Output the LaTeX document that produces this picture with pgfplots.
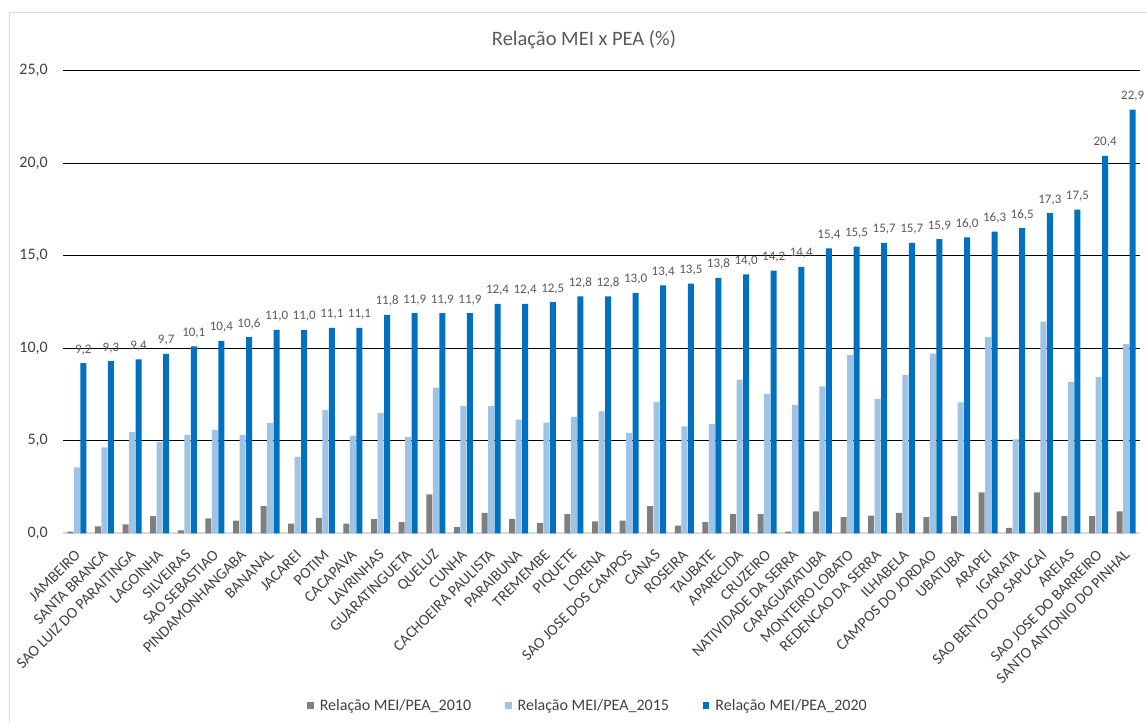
\documentclass[border=0pt]{standalone}
\usepackage{pgfplots}
\pgfplotsset{compat=1.18}
\usepackage{pgfplotstable}
\usepackage{fontspec}
\setmainfont{Carlito}
\definecolor{c10}{HTML}{7F7F7F}
\definecolor{c15}{HTML}{9DC3E6}
\definecolor{c20}{HTML}{0070C0}
\definecolor{txt}{HTML}{595959}
\definecolor{tickc}{HTML}{404040}
\definecolor{bord}{HTML}{D9D9D9}

\pgfplotstableread{
x v10 v15 v20
0 0.09 3.56 9.2
1 0.38 4.65 9.3
2 0.48 5.48 9.4
3 0.93 4.94 9.7
4 0.16 5.32 10.1
5 0.81 5.59 10.4
6 0.68 5.32 10.6
7 1.47 5.96 11.0
8 0.52 4.13 11.0
9 0.84 6.66 11.1
10 0.52 5.28 11.1
11 0.77 6.50 11.8
12 0.61 5.21 11.9
13 2.10 7.87 11.9
14 0.34 6.88 11.9
15 1.11 6.88 12.4
16 0.77 6.14 12.4
17 0.57 5.98 12.5
18 1.04 6.29 12.8
19 0.65 6.59 12.8
20 0.68 5.41 13.0
21 1.47 7.11 13.4
22 0.41 5.78 13.5
23 0.61 5.91 13.8
24 1.04 8.31 14.0
25 1.04 7.54 14.2
26 0.09 6.93 14.4
27 1.19 7.94 15.4
28 0.88 9.63 15.5
29 0.95 7.27 15.7
30 1.11 8.57 15.7
31 0.88 9.71 15.9
32 0.93 7.08 16.0
33 2.21 10.60 16.3
34 0.29 5.08 16.5
35 2.21 11.44 17.3
36 0.93 8.17 17.5
37 0.93 8.44 20.4
38 1.19 10.22 22.9
}\data

\begin{document}
\begin{tikzpicture}[x=1pt,y=1pt]
\useasboundingbox (0,0) rectangle (1147,722);
\draw[bord, line width=1pt] (9.5,-20) -- (9.5,709.5) -- (1170,709.5);
\node[txt, font=\fontsize{20.5}{24}\selectfont] at (584,682) {Relação MEI x PEA (\%)};
\begin{axis}[
  at={(63pt,188.7pt)}, anchor=south west,
  scale only axis, width=1077pt, height=462.5pt,
  xmin=-0.5, xmax=38.5, ymin=0, ymax=25,
  ybar=0.5pt, bar width=6pt,
  axis x line*=bottom, axis y line*=left,
  x axis line style={bord, line width=2pt, -},
  y axis line style={draw=none},
  ytick={5,10,15,20,25}, extra y ticks={0}, extra y tick style={grid=none},
  ymajorgrids, grid style={black, line width=1.2pt},
  major tick length=0pt,
  /pgf/number format/.cd, use comma, fixed, fixed zerofill, precision=1, assume math mode=true,
  /pgfplots/.cd,
  yticklabel style={anchor=east, inner sep=0pt, xshift=-15pt, font=\fontsize{16}{19}\selectfont, text=tickc},
  xtick={0,...,38},
  xticklabels={JAMBEIRO, SANTA BRANCA, SAO LUIZ DO PARAITINGA, LAGOINHA, SILVEIRAS, SAO SEBASTIAO, PINDAMONHANGABA, BANANAL, JACAREI, POTIM, CACAPAVA, LAVRINHAS, GUARATINGUETA, QUELUZ, CUNHA, CACHOEIRA PAULISTA, PARAIBUNA, TREMEMBE, PIQUETE, LORENA, SAO JOSE DOS CAMPOS, CANAS, ROSEIRA, TAUBATE, APARECIDA, CRUZEIRO, NATIVIDADE DA SERRA, CARAGUATATUBA, MONTEIRO LOBATO, REDENCAO DA SERRA, ILHABELA, CAMPOS DO JORDAO, UBATUBA, ARAPEI, IGARATA, SAO BENTO DO SAPUCAI, AREIAS, SAO JOSE DO BARREIRO, SANTO ANTONIO DO PINHAL},
  xticklabel style={xshift=1pt, yshift=-19pt, rotate=45, anchor=east, inner sep=0pt, font=\fontsize{15.5}{18}\selectfont, text=tickc},
  legend style={at={(axis description cs:0.4875,-0.3723)}, anchor=center, draw=none, fill=none, font=\fontsize{16}{19}\selectfont, text=tickc, /tikz/every odd column/.append style={column sep=4pt}, /tikz/every even column/.append style={column sep=32pt}},
  legend columns=3,
  legend image code/.code={\fill[#1, draw=none] (0pt,-3.2pt) rectangle (6.5pt,3.2pt);},
]
\addplot[fill=c10, draw=none] table[x=x, y=v10] {\data};
\addplot[fill=c15, draw=none] table[x=x, y=v15] {\data};
\addplot[fill=c20, draw=none, nodes near coords, nodes near coords style={anchor=base, yshift=10pt, inner sep=0pt, font=\fontsize{13}{15}\selectfont, text=txt}] table[x=x, y=v20] {\data};
\legend{Relação MEI/PEA\_2010, Relação MEI/PEA\_2015, Relação MEI/PEA\_2020}
\end{axis}
\end{tikzpicture}
\end{document}
